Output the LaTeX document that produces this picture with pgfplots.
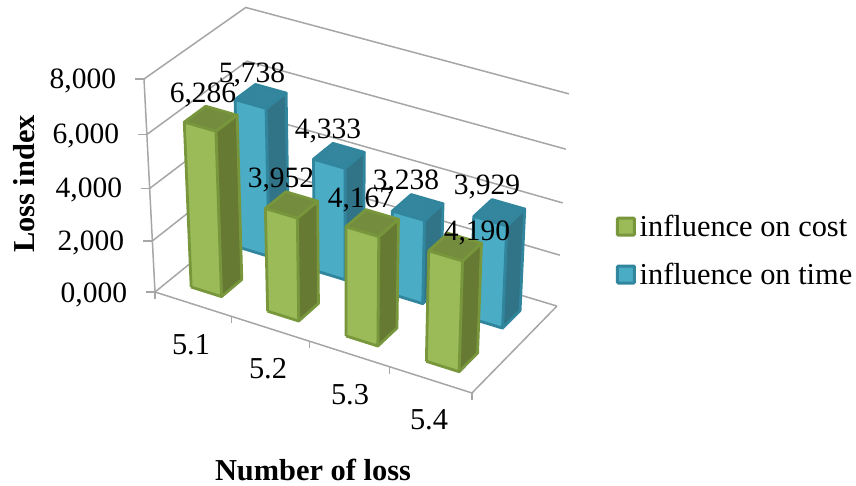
\documentclass[border=0pt]{standalone}
\usepackage{fontspec}
\setmainfont{Liberation Serif}
\usepackage{pgfplots}
\usepackage{pgfplotstable}
\pgfplotsset{compat=1.18}

\definecolor{costfront}{RGB}{155,187,89}
\definecolor{costedge}{RGB}{120,150,60}
\definecolor{costside}{RGB}{102,122,51}
\definecolor{costtop}{RGB}{115,140,62}
\definecolor{timefront}{RGB}{75,172,198}
\definecolor{timeedge}{RGB}{49,133,156}
\definecolor{timeside}{RGB}{49,115,135}
\definecolor{timetop}{RGB}{52,133,158}
\definecolor{gridgray}{RGB}{166,166,166}

% Loss index per loss number (thousands)
\pgfplotstableread{
cat cost time
0 6.286 5.738
1 3.952 4.333
2 4.167 3.238
3 4.190 3.929
}\lossdata

\newcommand{\labelfont}{\fontsize{30.4}{36}\selectfont}
\newcommand{\valuefont}{\fontsize{29.5}{36}\selectfont}

% One quadrilateral of a box; a, b, c are fractions of its width, depth, height
\newcommand{\boxface}[2]{%
  \addplot[forget plot,#1,line join=round] table[row sep=\\,
    x expr={px(\boxu+0.10*\thisrow{a},\boxw+0.21*\thisrow{b},\boxz*\thisrow{c})},
    y expr={py(\boxu+0.10*\thisrow{a},\boxw+0.21*\thisrow{b},\boxz*\thisrow{c})}]
    {a b c\\ #2};
}
% Front, side and top of the bar for category #1 in table column #2 at depth #3
\newcommand{\lossbar}[5]{%
  \pgfplotstablegetelem{#1}{#2}\of\lossdata
  \pgfmathsetmacro{\boxz}{\pgfplotsretval/8}%
  \pgfmathsetmacro{\boxu}{0.072+0.25*#1}%
  \def\boxw{#3}%
  \boxface{draw=#4edge,line width=2.8pt,fill=#4side}{1 0 0\\ 1 1 0\\ 1 1 1\\ 1 0 1\\ 1 0 0\\}
  \boxface{draw=#4edge,line width=2.8pt,fill=#4top}{0 0 1\\ 1 0 1\\ 1 1 1\\ 0 1 1\\ 0 0 1\\}
  \boxface{draw=#4edge,line width=2.8pt,fill=#4front}{0 0 0\\ 1 0 0\\ 1 0 1\\ 0 0 1\\ 0 0 0\\}
}

\begin{document}
\begin{tikzpicture}[every node/.append style={inner sep=0pt,outer sep=0pt}]
\begin{axis}[
  scale only axis, width=856pt, height=485pt,
  xmin=0, xmax=856, ymin=0, ymax=485, y dir=reverse,
  hide axis, clip=false,
  declare function={
    den(\u,\w,\z)=1-0.05*\u+0.05*\w-0.054*\z;
    px(\u,\w,\z)=(155+293.4*\u+108.55*\w-18.78*\z)/den(\u,\w,\z);
    py(\u,\w,\z)=(292+81.35*\u-67.3*\w-217.27*\z)/den(\u,\w,\z);
  },
  legend style={at={(0.7195,0.5605)},anchor=north west,draw=none,fill=none,
    font=\labelfont,inner sep=0pt,outer sep=0pt,
    /tikz/every even column/.append style={column sep=0pt},
    row sep=21pt},
  legend cell align=left,
  legend image code/.code={%
    \draw[#1,line width=3pt,rounded corners=1pt] (1.5pt,-8.5pt) rectangle (18.5pt,8.5pt);
    \path (21.5pt,0pt);},
]
  % full canvas, so the page keeps its size
  \path (axis cs:0,0) rectangle (axis cs:856,485);
  % wall grid lines at each level, running from the front left corner to the back right
  \pgfplotsinvokeforeach{0,0.25,0.5,0.75,1}{%
    \addplot[forget plot,gridgray,line width=1.5pt] table[row sep=\\,
      x expr={px(\thisrow{u},\thisrow{w},#1)},y expr={py(\thisrow{u},\thisrow{w},#1)}]
      {u w\\ 0 0\\ 0 1\\ 1 1\\};
  }
  % floor outline and value axis
  \addplot[forget plot,gridgray,line width=1.5pt,line join=round] table[row sep=\\,
      x expr={px(\thisrow{u},\thisrow{w},0)},y expr={py(\thisrow{u},\thisrow{w},0)}]
      {u w\\ 0 0\\ 1 0\\ 1 1\\};
  \addplot[forget plot,gridgray,line width=1.5pt] table[row sep=\\,
      x expr={px(0,0,\thisrow{z})},y expr={py(0,0,\thisrow{z})}]
      {z\\ 0\\ 1\\};
  % tick marks
  \pgfplotsinvokeforeach{0,0.25,0.5,0.75,1}{%
    \addplot[forget plot,gridgray,line width=1.5pt] table[row sep=\\,
      x expr={px(0,0,#1)+\thisrow{d}},y expr={py(0,0,#1)}]
      {d\\ -9\\ 1\\};
    \addplot[forget plot,gridgray,line width=1.5pt] table[row sep=\\,
      x expr={px(#1,0,0)},y expr={py(#1,0,0)+\thisrow{d}}]
      {d\\ 0\\ 7\\};
  }
  % rear series first, so the front series covers it
  \lossbar{0}{time}{0.645}{time}{}
  \lossbar{1}{time}{0.645}{time}{}
  \lossbar{2}{time}{0.645}{time}{}
  \lossbar{3}{time}{0.645}{time}{}
  \lossbar{0}{cost}{0.145}{cost}{}
  \lossbar{1}{cost}{0.145}{cost}{}
  \lossbar{2}{cost}{0.145}{cost}{}
  \lossbar{3}{cost}{0.145}{cost}{}

  \addlegendimage{draw=costedge,fill=costfront}
  \addlegendentry{influence on cost}
  \addlegendimage{draw=timeedge,fill=timefront}
  \addlegendentry{influence on time}

  % value axis numbers, following the slant of the axis
  \node[anchor=east,font=\valuefont] at (axis cs:116,81) {8,000};
  \node[anchor=east,font=\valuefont] at (axis cs:119,136) {6,000};
  \node[anchor=east,font=\valuefont] at (axis cs:122,190) {4,000};
  \node[anchor=east,font=\valuefont] at (axis cs:124,243) {2,000};
  \node[anchor=east,font=\valuefont] at (axis cs:127,295) {0,000};
  % category names
  \node[font=\labelfont] at (axis cs:191,345) {5.1};
  \node[font=\labelfont] at (axis cs:268,369) {5.2};
  \node[font=\labelfont] at (axis cs:350,395) {5.3};
  \node[font=\labelfont] at (axis cs:429,420) {5.4};
  % data labels
  \node[font=\valuefont] at (axis cs:203,95) {6,286};
  \node[font=\valuefont] at (axis cs:252,74.5) {5,738};
  \node[font=\valuefont] at (axis cs:328,131) {4,333};
  \node[font=\valuefont] at (axis cs:281,180) {3,952};
  \node[font=\valuefont] at (axis cs:361,200) {4,167};
  \node[font=\valuefont] at (axis cs:406,182) {3,238};
  \node[font=\valuefont] at (axis cs:487,187) {3,929};
  \node[font=\valuefont] at (axis cs:477,233) {4,190};
  % axis titles
  \node[font=\labelfont\bfseries,rotate=90] at (axis cs:24,184) {Loss index};
  \node[font=\labelfont\bfseries] at (axis cs:313,470) {Number of loss};
\end{axis}
\end{tikzpicture}
\end{document}
